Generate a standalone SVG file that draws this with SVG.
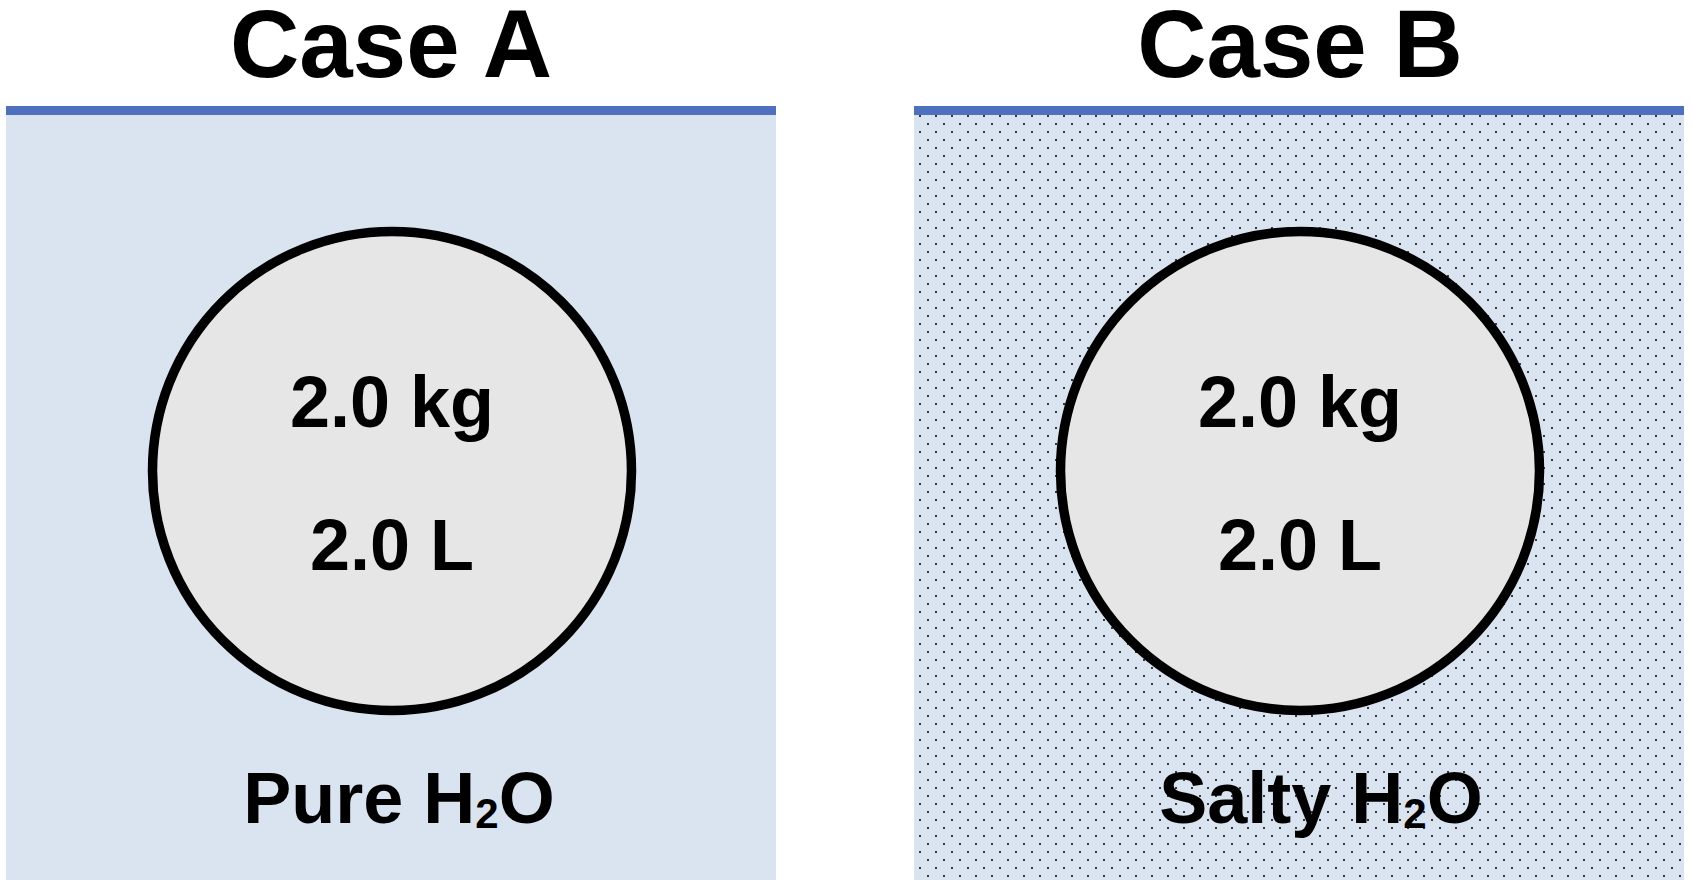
<svg xmlns="http://www.w3.org/2000/svg" width="1692" height="888" viewBox="0 0 1692 888">
<style>
.panel{fill:#DAE3F0}
.bar{fill:#4E70BE}
.tank{fill:#E6E6E6;stroke:#000;stroke-width:9.5}
.title{font-family:"Liberation Sans",Arial,sans-serif;font-weight:bold;font-size:96px;fill:#000;text-anchor:middle}
.lbl{font-family:"Liberation Sans",Arial,sans-serif;font-weight:bold;font-size:72px;fill:#000;text-anchor:middle}
</style>
<defs>
<pattern id="dots" patternUnits="userSpaceOnUse" x="919" y="115" width="16" height="16">
<rect x="0" y="0" width="2" height="2" fill="#3A3A3A"/>
<rect x="8" y="8" width="2" height="2" fill="#3A3A3A"/>
</pattern>
</defs>
<rect width="1692" height="888" fill="#fff"/>
<g id="caseA">
<rect class="panel" x="6" y="106" width="770" height="774"/>
<rect class="bar" x="6" y="106" width="770" height="9"/>
<text class="title" x="391" y="77">Case A</text>
<circle class="tank" cx="392" cy="471" r="239.5"/>
<text class="lbl" x="392" y="427">2.0 kg</text>
<text class="lbl" x="392" y="570">2.0 L</text>
<text class="lbl" x="399" y="823">Pure H<tspan font-size="42" dy="5">2</tspan><tspan dy="-5">O</tspan></text>
</g>
<g id="caseB">
<rect class="panel" x="914" y="106" width="770" height="774"/>
<rect x="914" y="106" width="770" height="774" fill="url(#dots)"/>
<rect class="bar" x="914" y="106" width="770" height="9"/>
<text class="title" x="1300" y="77">Case B</text>
<circle class="tank" cx="1300" cy="471" r="239.5"/>
<text class="lbl" x="1300" y="427">2.0 kg</text>
<text class="lbl" x="1300" y="570">2.0 L</text>
<text class="lbl" x="1321" y="823">Salty H<tspan font-size="42" dy="5">2</tspan><tspan dy="-5">O</tspan></text>
</g>
<g id="connectors"></g>
</svg>
